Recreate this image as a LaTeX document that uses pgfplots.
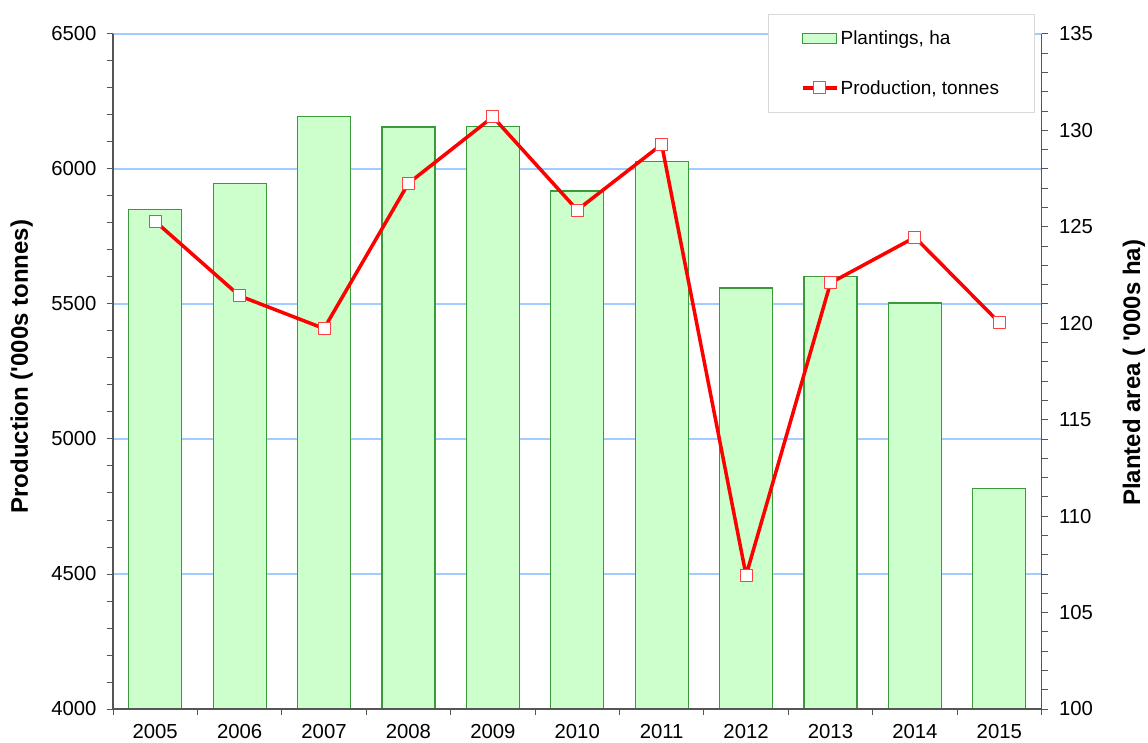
\documentclass[border=0pt]{standalone}
\usepackage{pgfplots}
\usepackage{pgfplotstable}
\pgfplotsset{compat=1.18}
\usepackage{fontspec}
\setmainfont{Liberation Sans}
\definecolor{barfill}{HTML}{CCFFCC}
\definecolor{bardraw}{HTML}{3A9A3A}
\definecolor{gridblue}{HTML}{A0CCFF}
\definecolor{axgray}{HTML}{555555}
\definecolor{markred}{HTML}{FF4040}
\pgfplotstableread{
x prod area
0 5806 125.91
1 5530 127.26
2 5409 130.73
3 5947 130.18
4 6193 130.21
5 5848 126.86
6 6091 128.40
7 4495 121.83
8 5578 122.43
9 5747 121.05
10 5431 111.42
}\data
\pgfplotsset{
  base/.style={width=928.5pt, height=675pt, scale only axis, at={(0,0)}, anchor=south west,
    xmin=-0.5, xmax=10.5,
    tick label style={font=\fontsize{20.3}{23}\selectfont},
    /pgf/number format/assume math mode=true, /pgf/number format/1000 sep={},
    tick align=outside, major tick length=6pt, minor tick length=6pt,
    tick style={axgray, line width=1pt},
    axis line style={axgray, line width=1.2pt},
    label style={font=\bfseries\fontsize{24}{28}\selectfont}},
  linelegend/.style={legend image code/.code={\draw[##1] (0pt,0pt) -- (34pt,0pt); \draw[##1] plot coordinates {(17pt,0pt)};}},
  barlegend/.style={legend image code/.code={\draw[##1] (0pt,-5pt) rectangle (34pt,5pt);}}
}
\begin{document}
\begin{tikzpicture}
\useasboundingbox (-113pt,-33pt) rectangle (1035pt,709pt);
\begin{axis}[base, ymin=4000, ymax=6500, axis y line*=left, axis x line=none,
  ytick={4000,4500,...,6500}, minor y tick num=4, ymajorgrids,
  grid style={gridblue, line width=1.3pt},
  yticklabel style={xshift=-7pt},
  ylabel={Production (\textquotesingle 000s tonnes)},
  ylabel style={at={(axis description cs:-0.0983,0.507)}, anchor=center, inner sep=0pt}]
\addplot[draw=none] coordinates {(0,5000)};
\end{axis}
\begin{axis}[base, ymin=100, ymax=135, axis y line*=right, axis x line*=bottom, axis on top,
  ytick={100,105,...,135}, minor y tick num=4,
  yticklabel style={xshift=8pt},
  xticklabel style={inner sep=0pt, yshift=-9pt},
  xtick={0,...,10}, xticklabels={2005,2006,2007,2008,2009,2010,2011,2012,2013,2014,2015},
  major x tick style={draw=none}, minor xtick={-0.5,0.5,...,10.5},
  ylabel={Planted area ( \textquotesingle 000s ha)},
  ylabel style={at={(axis description cs:1.0996,0.498)}, anchor=center, inner sep=0pt}]
\addplot[ybar, bar width=53pt, fill=barfill, draw=bardraw, line width=1.2pt] table[x=x,y=area]{\data};
\end{axis}
\begin{axis}[base, ymin=4000, ymax=6500, axis lines=none, xtick=\empty, ytick=\empty,
  legend cell align=left,
  legend style={at={(rel axis cs:0.9925,1.0296)}, anchor=north east, draw=black!15, line width=1pt,
    inner xsep=33pt, inner ysep=14.5pt, row sep=30pt, nodes={inner sep=2pt},
    font=\fontsize{19}{22}\selectfont}]
\addlegendimage{barlegend, fill=barfill, draw=bardraw, line width=1.2pt}
\addlegendentry{Plantings, ha}
\addplot[red, line width=3.5pt, line join=round, mark=square*, mark size=6pt,
  mark options={fill=white, draw=markred, line width=1pt}, linelegend]
  table[x=x,y=prod]{\data};
\addlegendentry{Production, tonnes}
\end{axis}
\end{tikzpicture}
\end{document}
